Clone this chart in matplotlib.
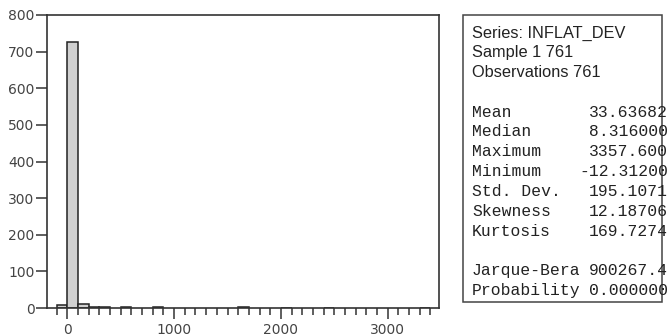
import matplotlib
matplotlib.use("Agg")
import matplotlib.pyplot as plt
from matplotlib.patches import Rectangle
from matplotlib.ticker import MultipleLocator

# Histogram of INFLAT_DEV, bin width 100
bin_left = [-100, 0, 100, 200, 300, 500, 800, 1600, 2000, 2400, 3300]
counts = [9, 727, 12, 2, 2, 2, 2, 2, 1, 1, 1]
bin_width = 100

y_ticks = [0, 100, 200, 300, 400, 500, 600, 700, 800]
x_ticks = [0, 1000, 2000, 3000]

header_lines = ["Series: INFLAT_DEV", "Sample 1 761", "Observations 761"]
stat_names = ["Mean", "Median", "Maximum", "Minimum", "Std. Dev.", "Skewness", "Kurtosis"]
stat_values = ["33.63682", "8.316000", "3357.600", "-12.31200", "195.1071", "12.18706", "169.7274"]
test_names = ["Jarque-Bera", "Probability"]
test_values = ["900267.4", "0.000000"]

W, H = 668, 336
fig = plt.figure(figsize=(W / 100, H / 100), dpi=100)
ax = fig.add_axes([47 / W, 1 - 308 / H, (439 - 47) / W, (308 - 15) / H])

ax.bar(bin_left, counts, width=bin_width, align="edge",
       facecolor="#d0d0d0", edgecolor="#222222", linewidth=1.1)

ax.set_xlim(-190, 3480)
ax.set_ylim(0, 800)
ax.set_yticks(y_ticks)
ax.set_xticks(x_ticks)
ax.xaxis.set_minor_locator(MultipleLocator(100))
ax.tick_params(axis="x", which="major", direction="out", length=8, width=1.1,
               color="#333333", labelsize=10, labelcolor="#444444", pad=3)
ax.tick_params(axis="x", which="minor", direction="out", length=5, width=1.1,
               color="#333333")
ax.tick_params(axis="y", which="major", direction="out", length=8, width=1.1,
               color="#333333", labelsize=10, labelcolor="#444444", pad=1)
for s in ax.spines.values():
    s.set_color("#333333")
    s.set_linewidth(1.2)

# Descriptive statistics panel
box_l, box_r, box_t, box_b = 463, 662, 15, 302
fig.patches.append(Rectangle((box_l / W, 1 - box_b / H), (box_r - box_l) / W,
                             (box_b - box_t) / H, transform=fig.transFigure,
                             facecolor="white", edgecolor="#444444", linewidth=1.1))

mono = "Liberation Mono"
fs = 11.8
x_left = 472 / W
x_right = 668 / W
line_h = 19.8
y0 = 33
rows = []
for t in header_lines:
    rows.append((t, None, "Liberation Sans"))
rows.append((None, None, mono))
for n, v in zip(stat_names, stat_values):
    rows.append((n, v, mono))
rows.append((None, None, mono))
for n, v in zip(test_names, test_values):
    rows.append((n, v, mono))

for i, (name, val, fam) in enumerate(rows):
    y = 1 - (y0 + i * line_h) / H
    if name is not None:
        fig.text(x_left, y, name, family=fam, fontsize=fs, color="#222222",
                 ha="left", va="center")
    if val is not None:
        fig.text(x_right, y, val, family=mono, fontsize=fs, color="#222222",
                 ha="right", va="center")

fig.savefig("out.png", dpi=100)
